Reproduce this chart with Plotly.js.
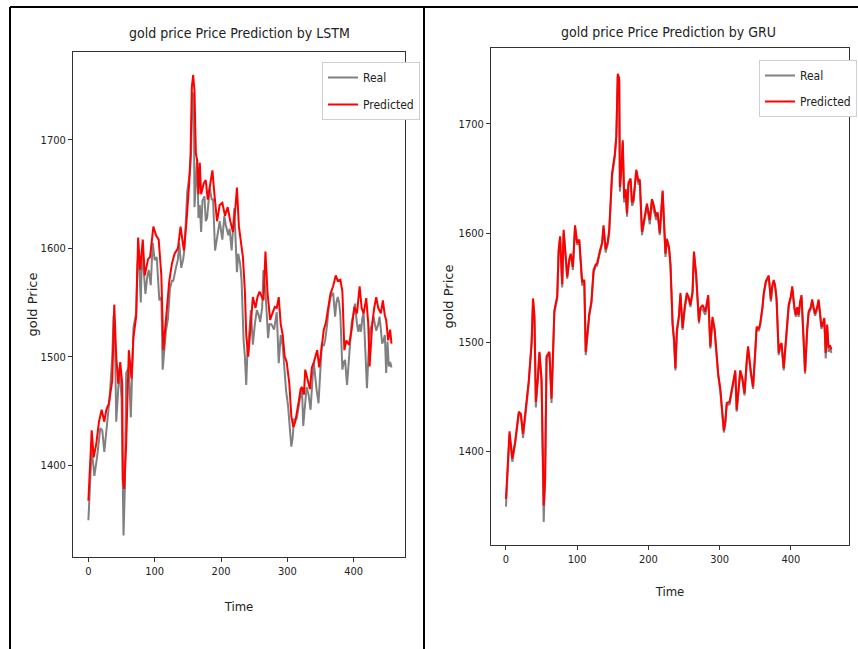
<!DOCTYPE html>
<html>
<head>
<meta charset="utf-8">
<script src="https://cdn.plot.ly/plotly-3.0.1.min.js"></script>
<style>html,body{margin:0;padding:0;background:#fff;}#chart{width:858px;height:649px;}</style>
</head>
<body>
<div id="chart"></div>
<script>
// ---- data ----
const chartTitles = ["gold price Price Prediction by LSTM", "gold price Price Prediction by GRU"];
const seriesNames = ["Real", "Predicted"];
const xTickValues = [0, 100, 200, 300, 400];
const yTickValues = [1400, 1500, 1600, 1700];

const timeSteps = [0,3,5,9,13,18,21,24,28,32,36,38,40,42,45,47,50,53,55,57,61,64,68,72,74,76,79,81,84,86,89,91,94,97,100,103,107,110,112,114,117,120,123,126,128,132,135,137,140,143,145,149,153,155,157,159,160,162,164,166,168,170,172,175,177,179,183,186,188,191,195,198,202,205,207,211,213,216,220,224,226,229,231,234,236,238,240,243,245,248,251,254,257,259,262,264,267,271,273,276,280,284,287,290,293,296,298,301,303,306,308,310,314,318,322,324,327,329,332,335,338,340,344,347,350,352,355,357,360,362,365,369,372,374,376,378,380,383,385,387,390,394,397,400,402,405,407,409,411,413,415,418,420,423,425,428,430,432,434,437,439,441,443,445,447,449,451,453,455,457];

const realPrice = [1349,1395,1415,1390,1407,1434,1432,1412,1440,1462,1500,1538,1520,1440,1470,1490,1462,1335,1380,1485,1490,1444,1527,1540,1585,1596,1550,1600,1575,1558,1575,1580,1566,1605,1589,1592,1552,1555,1488,1505,1524,1535,1563,1570,1570,1582,1590,1605,1582,1590,1600,1652,1670,1690,1744,1740,1638,1660,1683,1628,1640,1615,1644,1648,1625,1628,1656,1645,1645,1598,1615,1625,1608,1630,1622,1612,1618,1598,1637,1578,1595,1585,1570,1515,1500,1474,1508,1525,1543,1511,1530,1543,1538,1532,1545,1580,1560,1517,1530,1530,1525,1541,1494,1520,1510,1485,1469,1455,1436,1417,1425,1442,1443,1457,1472,1436,1460,1472,1465,1451,1480,1494,1470,1457,1490,1512,1510,1515,1530,1543,1555,1559,1537,1550,1555,1550,1538,1488,1495,1497,1474,1512,1532,1540,1549,1530,1523,1530,1523,1535,1541,1500,1471,1510,1526,1530,1537,1530,1524,1530,1537,1525,1512,1515,1520,1485,1514,1491,1495,1490];

const gruPredicted = [1356,1390,1418,1393,1409,1436,1434,1416,1441,1464,1498,1540,1525,1445,1468,1491,1466,1350,1372,1487,1491,1448,1529,1542,1583,1597,1553,1603,1578,1560,1576,1581,1569,1607,1591,1594,1555,1557,1491,1503,1526,1537,1566,1571,1572,1584,1591,1607,1585,1592,1603,1655,1673,1688,1746,1742,1642,1658,1685,1632,1640,1618,1646,1650,1628,1630,1658,1648,1649,1601,1614,1627,1612,1631,1627,1615,1619,1600,1639,1581,1594,1587,1572,1517,1503,1476,1511,1524,1545,1513,1532,1545,1540,1534,1546,1583,1563,1519,1531,1534,1528,1543,1496,1523,1512,1487,1471,1457,1438,1419,1427,1444,1445,1459,1474,1438,1462,1474,1467,1453,1482,1496,1472,1459,1491,1514,1512,1517,1531,1545,1556,1561,1539,1552,1557,1552,1540,1490,1497,1499,1476,1514,1534,1542,1551,1532,1525,1532,1525,1537,1543,1502,1473,1512,1528,1532,1539,1532,1526,1532,1539,1527,1514,1517,1522,1490,1516,1495,1497,1493];

const lstmTimeSteps = [0,5,8,12,16,20,24,27,31,36,39,42,45,48,51,52,54,57,61,65,68,72,75,78,82,85,90,93,98,102,106,110,113,116,118,122,126,130,135,139,144,148,152,154,156,158,160,162,164,166,168,170,174,177,180,184,187,190,194,198,202,206,210,214,218,222,224,227,230,233,236,238,241,245,248,252,255,258,261,264,267,270,274,277,281,284,287,290,293,296,299,303,306,309,312,317,320,322,325,327,330,334,337,340,345,348,352,355,358,362,365,369,373,376,380,383,386,389,393,397,401,405,409,412,415,419,422,424,428,431,434,437,441,444,447,449,452,455,457];

const lstmPredicted = [1367,1432,1407,1420,1440,1451,1440,1451,1457,1478,1548,1500,1475,1495,1475,1386,1378,1420,1506,1480,1518,1537,1610,1580,1608,1575,1590,1592,1620,1612,1608,1575,1506,1530,1546,1570,1586,1595,1600,1620,1598,1625,1660,1685,1749,1760,1745,1688,1681,1650,1679,1650,1660,1663,1645,1660,1672,1650,1625,1640,1642,1630,1638,1625,1615,1640,1656,1620,1608,1592,1560,1520,1500,1530,1555,1545,1555,1560,1555,1552,1597,1560,1534,1540,1546,1545,1555,1530,1520,1500,1495,1475,1445,1435,1440,1458,1470,1472,1465,1488,1480,1470,1490,1495,1506,1490,1510,1525,1531,1545,1558,1565,1575,1570,1571,1560,1506,1515,1511,1525,1546,1540,1565,1545,1540,1554,1530,1491,1530,1545,1555,1545,1540,1552,1538,1534,1515,1525,1512];

// ---- drawing ----
const W = 858, H = 649;
const px = v => v / W;
const py = v => 1 - v / H;
const fontCond = "DejaVu Sans Condensed, Liberation Sans Narrow, DejaVu Sans, sans-serif";
const realColor = "#808080", predColor = "#ff0000";

const traces = [
  {x: timeSteps, y: realPrice, name: seriesNames[0], type: "scatter", mode: "lines",
   line: {color: realColor, width: 2}, xaxis: "x", yaxis: "y", legend: "legend", legendgroup: "a"},
  {x: lstmTimeSteps, y: lstmPredicted, name: seriesNames[1], type: "scatter", mode: "lines",
   line: {color: predColor, width: 2}, xaxis: "x", yaxis: "y", legend: "legend", legendgroup: "b"},
  {x: timeSteps, y: realPrice, name: seriesNames[0], type: "scatter", mode: "lines",
   line: {color: realColor, width: 2}, xaxis: "x2", yaxis: "y2", legend: "legend2", legendgroup: "c"},
  {x: timeSteps, y: gruPredicted, name: seriesNames[1], type: "scatter", mode: "lines",
   line: {color: predColor, width: 2}, xaxis: "x2", yaxis: "y2", legend: "legend2", legendgroup: "d"}
];

const axisCommon = {
  showline: true, mirror: true, linecolor: "#333", linewidth: 1,
  ticks: "outside", ticklen: 4, tickcolor: "#333", showgrid: false, zeroline: false,
  tickfont: {family: fontCond, size: 11, color: "#222"}, automargin: false
};

const layout = {
  width: W, height: H,
  margin: {l: 0, r: 0, t: 0, b: 0},
  paper_bgcolor: "#fff", plot_bgcolor: "#fff",
  showlegend: true,
  xaxis: Object.assign({}, axisCommon, {domain: [px(73), px(405)], range: [-23.2, 477.4], tickvals: xTickValues, anchor: "y",
    title: {text: "Time", font: {family: fontCond, size: 13, color: "#222"}, standoff: 24}}),
  yaxis: Object.assign({}, axisCommon, {domain: [py(557), py(52)], range: [1315.1, 1781.2], tickvals: yTickValues, anchor: "x",
    title: {text: "gold Price", font: {family: "DejaVu Sans, sans-serif", size: 13, color: "#222"}, standoff: 0}}),
  xaxis2: Object.assign({}, axisCommon, {domain: [px(491), px(849)], range: [-21, 481.7], tickvals: xTickValues, anchor: "y2",
    title: {text: "Time", font: {family: fontCond, size: 13, color: "#222"}, standoff: 21}}),
  yaxis2: Object.assign({}, axisCommon, {domain: [py(545), py(48)], range: [1313.8, 1769.7], tickvals: yTickValues, anchor: "x2",
    title: {text: "gold Price", font: {family: "DejaVu Sans, sans-serif", size: 13, color: "#222"}, standoff: 2}}),
  legend: {x: px(322), y: py(62), xanchor: "left", yanchor: "top", bgcolor: "#fff", bordercolor: "#d0d0d0", borderwidth: 1,
    font: {family: fontCond, size: 12, color: "#222"}, tracegroupgap: 8, itemwidth: 30},
  legend2: {x: px(759), y: py(60), xanchor: "left", yanchor: "top", bgcolor: "#fff", bordercolor: "#d0d0d0", borderwidth: 1,
    font: {family: fontCond, size: 12, color: "#222"}, tracegroupgap: 7, itemwidth: 30},
  annotations: [
    {text: chartTitles[0], x: px(239), y: py(33), xref: "paper", yref: "paper", showarrow: false,
     font: {family: fontCond, size: 14, color: "#222"}, xanchor: "center", yanchor: "middle"},
    {text: chartTitles[1], x: px(668), y: py(32), xref: "paper", yref: "paper", showarrow: false,
     font: {family: fontCond, size: 14, color: "#222"}, xanchor: "center", yanchor: "middle"}
  ],
  shapes: [
    {type: "line", xref: "paper", yref: "paper", x0: px(10), x1: 1, y0: py(7), y1: py(7), line: {color: "#000", width: 2}},
    {type: "line", xref: "paper", yref: "paper", x0: px(10), x1: px(10), y0: py(7), y1: 0, line: {color: "#000", width: 2}},
    {type: "line", xref: "paper", yref: "paper", x0: px(424), x1: px(424), y0: py(7), y1: 0, line: {color: "#000", width: 2}}
  ]
};

Plotly.newPlot("chart", traces, layout, {staticPlot: true, displayModeBar: false});
</script>
</body>
</html>
